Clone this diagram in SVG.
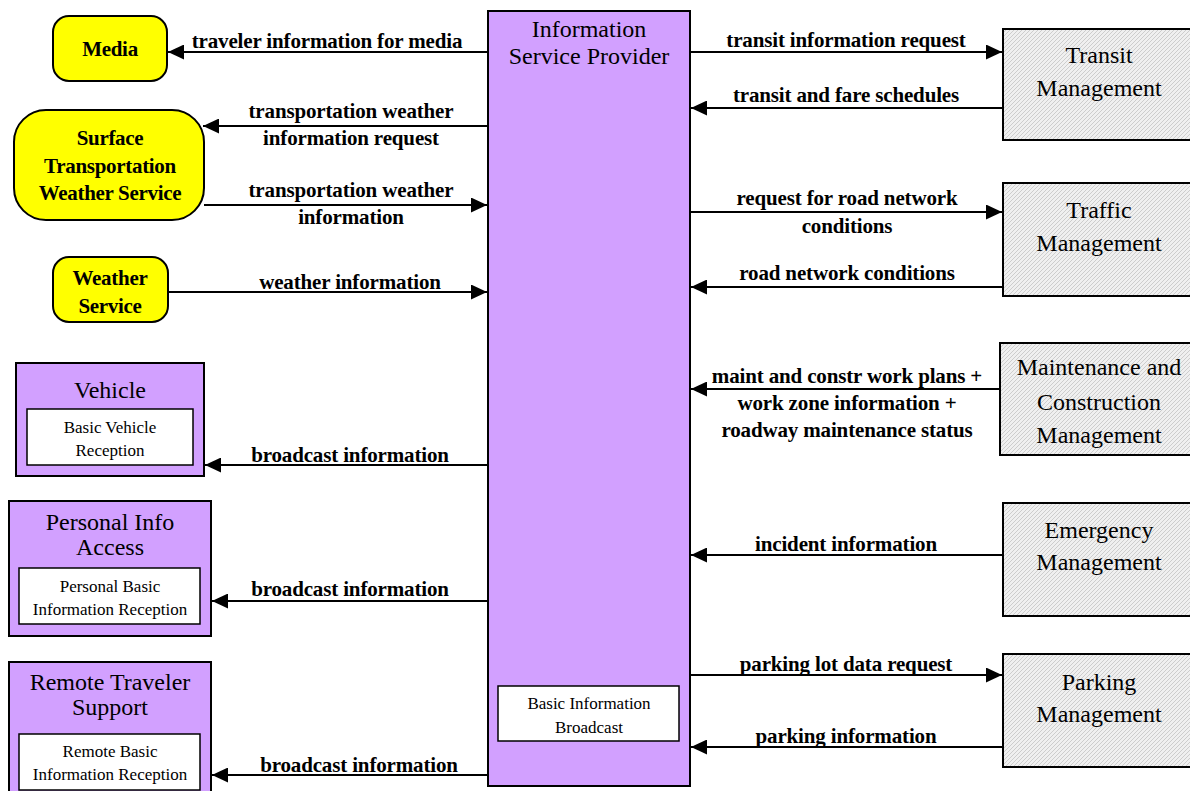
<svg xmlns="http://www.w3.org/2000/svg" width="1190" height="791" viewBox="0 0 1190 791">
<style>
.lbl{font-family:"Liberation Serif","Times New Roman",serif;font-weight:bold;font-size:21px;letter-spacing:-0.15px;fill:#000;text-anchor:middle}
.ybox{fill:#FFFF00;stroke:#000;stroke-width:2}
.ytxt{font-family:"Liberation Serif","Times New Roman",serif;font-weight:bold;font-size:21px;letter-spacing:-0.3px;fill:#000;text-anchor:middle}
.pbox{fill:#D2A0FF;stroke:#000;stroke-width:2}
.wbox{fill:#fff;stroke:#000;stroke-width:1.5}
.ntxt{font-family:"Liberation Serif","Times New Roman",serif;font-size:24px;fill:#000;text-anchor:middle}
.stxt{font-family:"Liberation Serif","Times New Roman",serif;font-size:17px;fill:#000;text-anchor:middle}
.hbox{fill:url(#hatch);stroke:#000;stroke-width:2}
.conn line{stroke:#000;stroke-width:2;marker-end:url(#arr)}
</style>
<defs>
<marker id="arr" markerUnits="userSpaceOnUse" markerWidth="16" markerHeight="15" refX="16" refY="7.5" orient="auto">
<path d="M0,0 L16,7.5 L0,15 Z" fill="#000"/>
</marker>
<pattern id="hatch" patternUnits="userSpaceOnUse" width="4" height="4">
<rect width="4" height="4" fill="#f0f0f0"/>
<path d="M-1,1 L1,-1 M0,4 L4,0 M3,5 L5,3" stroke="#c4c4c4" stroke-width="0.8"/>
</pattern>
</defs>
<rect width="1190" height="791" fill="#fff"/>

<g id="isp">
<rect class="pbox" x="488" y="11" width="202" height="775"/>
<text class="ntxt" x="589" y="37">Information</text>
<text class="ntxt" x="589" y="64">Service Provider</text>
<rect class="wbox" x="498" y="686" width="181" height="55"/>
<text class="stxt" x="589" y="709">Basic Information</text>
<text class="stxt" x="589" y="733">Broadcast</text>
</g>

<g id="media">
<rect class="ybox" x="53" y="16" width="114" height="65" rx="16"/>
<text class="ytxt" x="110" y="56">Media</text>
</g>
<g id="stws">
<rect class="ybox" x="14" y="110" width="190" height="110" rx="32"/>
<text class="ytxt" x="110" y="145">Surface</text>
<text class="ytxt" x="110" y="173">Transportation</text>
<text class="ytxt" x="110" y="200">Weather Service</text>
</g>
<g id="weather">
<rect class="ybox" x="53" y="257" width="115" height="65" rx="16"/>
<text class="ytxt" x="110" y="285">Weather</text>
<text class="ytxt" x="110" y="313">Service</text>
</g>
<g id="vehicle">
<rect class="pbox" x="16" y="363" width="188" height="113"/>
<text class="ntxt" x="110" y="398">Vehicle</text>
<rect class="wbox" x="27" y="409" width="166" height="56"/>
<text class="stxt" x="110" y="433">Basic Vehicle</text>
<text class="stxt" x="110" y="456">Reception</text>
</g>
<g id="personal">
<rect class="pbox" x="9" y="501" width="202" height="135"/>
<text class="ntxt" x="110" y="530">Personal Info</text>
<text class="ntxt" x="110" y="555">Access</text>
<rect class="wbox" x="19" y="568" width="181" height="56"/>
<text class="stxt" x="110" y="592">Personal Basic</text>
<text class="stxt" x="110" y="615">Information Reception</text>
</g>
<g id="remote">
<rect class="pbox" x="9" y="662" width="202" height="140"/>
<text class="ntxt" x="110" y="690">Remote Traveler</text>
<text class="ntxt" x="110" y="715">Support</text>
<rect class="wbox" x="19" y="734" width="181" height="56"/>
<text class="stxt" x="110" y="757">Remote Basic</text>
<text class="stxt" x="110" y="780">Information Reception</text>
</g>

<g id="transit">
<rect class="hbox" x="1003" y="29" width="195" height="111"/>
<text class="ntxt" x="1099" y="63">Transit</text>
<text class="ntxt" x="1099" y="96">Management</text>
</g>
<g id="traffic">
<rect class="hbox" x="1003" y="183" width="195" height="113"/>
<text class="ntxt" x="1099" y="218">Traffic</text>
<text class="ntxt" x="1099" y="251">Management</text>
</g>
<g id="maint">
<rect class="hbox" x="1000" y="343" width="198" height="112"/>
<text class="ntxt" x="1099" y="375">Maintenance and</text>
<text class="ntxt" x="1099" y="410">Construction</text>
<text class="ntxt" x="1099" y="443">Management</text>
</g>
<g id="emergency">
<rect class="hbox" x="1003" y="503" width="195" height="113"/>
<text class="ntxt" x="1099" y="538">Emergency</text>
<text class="ntxt" x="1099" y="570">Management</text>
</g>
<g id="parking">
<rect class="hbox" x="1003" y="654" width="195" height="113"/>
<text class="ntxt" x="1099" y="690">Parking</text>
<text class="ntxt" x="1099" y="722">Management</text>
</g>

<g id="connectors" class="conn">
<line x1="488" y1="52" x2="168" y2="52"/>
<line x1="488" y1="126" x2="203" y2="126"/>
<line x1="204" y1="205" x2="487" y2="205"/>
<line x1="168" y1="292" x2="487" y2="292"/>
<line x1="488" y1="465" x2="205" y2="465"/>
<line x1="488" y1="601" x2="212" y2="601"/>
<line x1="488" y1="775" x2="212" y2="775"/>
<line x1="690" y1="52" x2="1002" y2="52"/>
<line x1="1003" y1="108" x2="691" y2="108"/>
<line x1="690" y1="212" x2="1002" y2="212"/>
<line x1="1003" y1="287" x2="691" y2="287"/>
<line x1="1000" y1="389" x2="691" y2="389"/>
<line x1="1003" y1="555" x2="691" y2="555"/>
<line x1="690" y1="675" x2="1002" y2="675"/>
<line x1="1003" y1="747" x2="691" y2="747"/>
</g>

<g id="labels">
<text class="lbl" x="327" y="48">traveler information for media</text>
<text class="lbl" x="351" y="118">transportation weather</text>
<text class="lbl" x="351" y="145">information request</text>
<text class="lbl" x="351" y="197">transportation weather</text>
<text class="lbl" x="351" y="224">information</text>
<text class="lbl" x="350" y="289">weather information</text>
<text class="lbl" x="350" y="462">broadcast information</text>
<text class="lbl" x="350" y="596">broadcast information</text>
<text class="lbl" x="359" y="772">broadcast information</text>
<text class="lbl" x="846" y="47">transit information request</text>
<text class="lbl" x="846" y="102">transit and fare schedules</text>
<text class="lbl" x="847" y="205">request for road network</text>
<text class="lbl" x="847" y="233">conditions</text>
<text class="lbl" x="847" y="280">road network conditions</text>
<text class="lbl" x="847" y="383">maint and constr work plans +</text>
<text class="lbl" x="847" y="410">work zone information +</text>
<text class="lbl" x="847" y="437">roadway maintenance status</text>
<text class="lbl" x="846" y="551">incident information</text>
<text class="lbl" x="846" y="671">parking lot data request</text>
<text class="lbl" x="846" y="743">parking information</text>
</g>
</svg>
